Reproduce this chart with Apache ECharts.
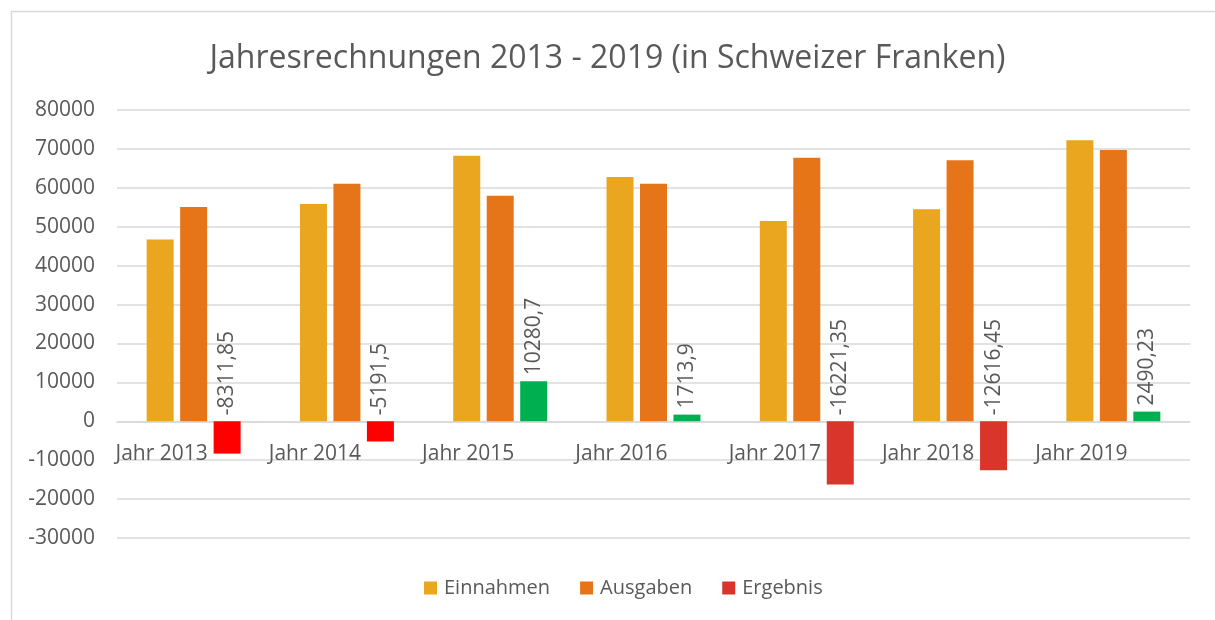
<!DOCTYPE html>
<html>
<head>
<meta charset="utf-8">
<script src="https://cdn.jsdelivr.net/npm/echarts@6/dist/echarts.min.js"></script>
<style>
  html, body { margin: 0; padding: 0; background: #fff; }
  #chart { width: 1215px; height: 620px; }
</style>
</head>
<body>
<div id="chart"></div>
<script>
// Kategorien und Werte
const jahre = ['Jahr 2013', 'Jahr 2014', 'Jahr 2015', 'Jahr 2016', 'Jahr 2017', 'Jahr 2018', 'Jahr 2019'];
const einnahmen = [46738, 55860, 68230, 62750, 51500, 54500, 72200];
const ausgaben = [55050, 61051.5, 57949.3, 61036.1, 67721.35, 67116.45, 69709.77];
const ergebnis = [-8311.85, -5191.5, 10280.7, 1713.9, -16221.35, -12616.45, 2490.23];
const yMin = -30000, yMax = 80000, yStep = 10000;

// Farben je Ergebnis-Balken
const ergebnisFarben = ['#FF0000', '#FF0000', '#00B050', '#00B050', '#D9352A', '#D9352A', '#00B050'];

const schrift = 'Open Sans';
const grau = '#595959';
const gridTop = 110, gridBottom = 82;
const gridHoehe = 620 - gridTop - gridBottom;
// x-Achse auf die Nulllinie schieben
const nullOffset = -gridHoehe * (0 - yMin) / (yMax - yMin);

let myChart = echarts.init(document.getElementById('chart'));
myChart.setOption({
  backgroundColor: '#fff',
  textStyle: { fontFamily: schrift, color: grau },
  graphic: [{
    type: 'rect',
    shape: { x: 11.5, y: 11.5, width: 1300, height: 700 },
    style: { fill: 'none', stroke: '#d9d9d9', lineWidth: 1.5 },
    silent: true
  }],
  title: {
    text: 'Jahresrechnungen 2013 - 2019 (in Schweizer Franken)',
    left: 'center',
    top: 38,
    textStyle: { fontFamily: schrift, fontSize: 32, fontWeight: 'normal', color: grau }
  },
  legend: {
    data: ['Einnahmen', 'Ausgaben', 'Ergebnis'],
    bottom: 17,
    left: 419,
    icon: 'rect',
    itemWidth: 13,
    itemHeight: 13,
    itemGap: 30,
    textStyle: { fontFamily: schrift, fontSize: 20, color: grau, padding: [0, 0, 0, 2] }
  },
  grid: { left: 117, right: 25, top: gridTop, bottom: gridBottom },
  xAxis: {
    type: 'category',
    data: jahre,
    offset: nullOffset,
    axisLine: { onZero: false, lineStyle: { color: '#d9d9d9', width: 1.5 } },
    axisTick: { show: false },
    axisLabel: {
      margin: 22,
      fontSize: 21,
      color: grau,
      fontFamily: schrift,
      padding: [0, 64, 0, 0]
    }
  },
  yAxis: {
    type: 'value',
    min: yMin,
    max: yMax,
    interval: yStep,
    axisLine: { show: false },
    axisTick: { show: false },
    axisLabel: { margin: 22, fontSize: 21, color: grau, fontFamily: schrift, formatter: v => String(v) },
    splitLine: { lineStyle: { color: '#d9d9d9', width: 1.5 } }
  },
  series: [
    {
      name: 'Einnahmen',
      type: 'bar',
      data: einnahmen,
      barWidth: 27,
      barGap: '24%',
      itemStyle: { color: '#E9A61E' }
    },
    {
      name: 'Ausgaben',
      type: 'bar',
      data: ausgaben,
      barWidth: 27,
      barGap: '24%',
      itemStyle: { color: '#E67519' }
    },
    {
      name: 'Ergebnis',
      type: 'bar',
      barWidth: 27,
      barGap: '24%',
      itemStyle: { color: '#D9342B' },
      data: ergebnis.map((v, i) => ({ value: v, itemStyle: { color: ergebnisFarben[i] } })),
      label: {
        show: true,
        position: 'top',
        rotate: 90,
        align: 'left',
        verticalAlign: 'middle',
        distance: 6,
        fontSize: 21,
        fontFamily: schrift,
        color: grau,
        formatter: p => String(p.value).replace('.', ',')
      }
    }
  ]
});
</script>
</body>
</html>
